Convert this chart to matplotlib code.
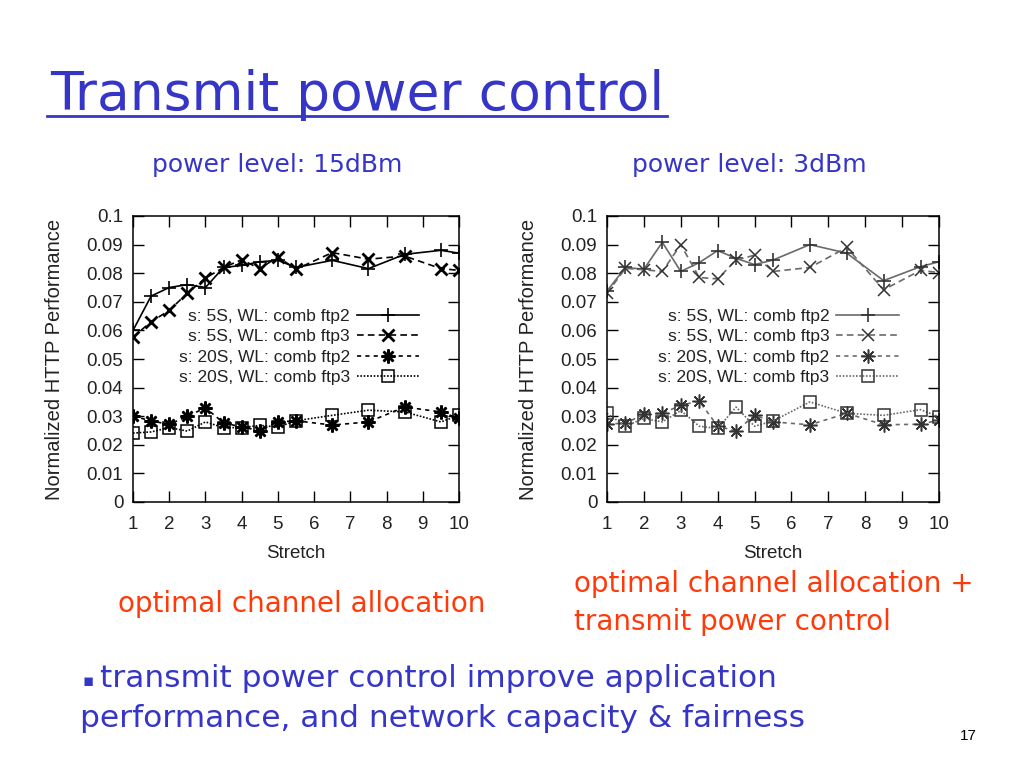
import numpy as np
import matplotlib
matplotlib.use("Agg")
import matplotlib.pyplot as plt
from matplotlib.lines import Line2D
from matplotlib.ticker import FormatStrFormatter

# stretch values (same for all series)
stretch = [1, 1.5, 2, 2.5, 3, 3.5, 4, 4.5, 5, 5.5, 6.5, 7.5, 8.5, 9.5, 10]

labels = ["s: 5S, WL: comb ftp2", "s: 5S, WL: comb ftp3",
          "s: 20S, WL: comb ftp2", "s: 20S, WL: comb ftp3"]

# power level 15dBm
p15_5s_ftp2 = [0.060, 0.072, 0.075, 0.076, 0.075, 0.082, 0.0827, 0.084, 0.0845, 0.082,
               0.0845, 0.0816, 0.0866, 0.088, 0.087]
p15_5s_ftp3 = [0.0577, 0.063, 0.067, 0.073, 0.0783, 0.082, 0.0847, 0.0816, 0.0857, 0.0814,
               0.0872, 0.0849, 0.086, 0.0816, 0.081]
p15_20s_ftp2 = [0.030, 0.0284, 0.0271, 0.030, 0.0329, 0.0277, 0.0262, 0.025, 0.028, 0.0284,
                0.0269, 0.028, 0.0332, 0.0315, 0.0292]
p15_20s_ftp3 = [0.0241, 0.0245, 0.026, 0.0248, 0.028, 0.026, 0.026, 0.0268, 0.0262, 0.0284,
                0.0303, 0.0321, 0.0315, 0.028, 0.0303]

# power level 3dBm
p3_5s_ftp2 = [0.0738, 0.082, 0.0814, 0.0908, 0.0806, 0.0837, 0.0879, 0.0852, 0.083, 0.0846,
              0.090, 0.087, 0.0774, 0.0823, 0.084]
p3_5s_ftp3 = [0.073, 0.0817, 0.0812, 0.0806, 0.090, 0.0785, 0.078, 0.0846, 0.0863, 0.0806,
              0.082, 0.089, 0.0742, 0.081, 0.0802]
p3_20s_ftp2 = [0.0272, 0.0276, 0.0306, 0.031, 0.0338, 0.0353, 0.0265, 0.0248, 0.0303, 0.028,
               0.027, 0.031, 0.027, 0.0272, 0.0286]
p3_20s_ftp3 = [0.031, 0.0265, 0.0292, 0.028, 0.032, 0.0265, 0.0257, 0.0332, 0.0265, 0.0283,
               0.035, 0.031, 0.0303, 0.0323, 0.0298]

xticks = [1, 2, 3, 4, 5, 6, 7, 8, 9, 10]
yticks = [0, 0.01, 0.02, 0.03, 0.04, 0.05, 0.06, 0.07, 0.08, 0.09, 0.1]

blue = "#3535c8"
red = "#ff3a0a"
slide_font = "DejaVu Sans"
plot_font = "Liberation Sans"

W, H = 1024, 768
fig = plt.figure(figsize=(10.24, 7.68), dpi=100)
fig.patch.set_facecolor("white")


def px(x, y):
    return x / W, 1 - y / H


def draw_chart(ax, series, lcol, mcol, bold):
    styles = [dict(ls="-", marker="+", ms=10, mew=1.2),
              dict(ls=(0, (4, 2.5)), marker="x", ms=8, mew=2.0 if bold else 1.1),
              dict(ls=(0, (2.5, 2.5)), marker=(8, 2, 0), ms=10, mew=1.8 if bold else 1.1),
              dict(ls=(0, (1, 1)), marker="s", ms=8, mfc="none", mew=1.1)]
    for ys, st, lab in zip(series, styles, labels):
        ax.plot(stretch, ys, color=lcol, lw=1.2, mec=mcol, label=lab, **st)
    ax.set_xlim(1, 10)
    ax.set_ylim(0, 0.1)
    ax.set_xticks(xticks)
    ax.set_yticks(yticks)
    ax.yaxis.set_major_formatter(FormatStrFormatter("%g"))
    ax.tick_params(direction="in", length=8, width=1, top=True, right=True,
                   labelsize=13.5, colors="black")
    ax.tick_params(axis="x", pad=10)
    ax.tick_params(axis="y", pad=7)
    for lab in ax.get_xticklabels() + ax.get_yticklabels():
        lab.set_fontfamily(plot_font)
        lab.set_color("#222222")
    for sp in ax.spines.values():
        sp.set_linewidth(1.1)
    ax.set_xlabel("Stretch", fontsize=13.5, family=plot_font, labelpad=9, color="#222222")
    ax.set_ylabel("Normalized HTTP Performance", fontsize=14.5, family=plot_font,
                  labelpad=16, color="#222222")
    leg = ax.legend(loc="upper right", bbox_to_anchor=(0.9, 0.7), frameon=False,
                    markerfirst=False, handlelength=3.6, handletextpad=0.4,
                    labelspacing=0.3, prop={"family": plot_font, "size": 12.5},
                    borderaxespad=0)
    for t in leg.get_texts():
        t.set_color("#222222")


ax1 = fig.add_axes([133 / W, 1 - 502 / H, 326 / W, 286 / H])
draw_chart(ax1, [p15_5s_ftp2, p15_5s_ftp3, p15_20s_ftp2, p15_20s_ftp3], "black", "black", True)

ax2 = fig.add_axes([607 / W, 1 - 502 / H, 332 / W, 286 / H])
draw_chart(ax2, [p3_5s_ftp2, p3_5s_ftp3, p3_20s_ftp2, p3_20s_ftp3], "#6a6a6a", "#333333", False)

# slide text
fig.text(*px(50, 110), "Transmit power control", color=blue, fontsize=38.5,
         family=slide_font, va="baseline", ha="left")
fig.add_artist(Line2D([47 / W, 667 / W], [1 - 116 / H, 1 - 116 / H], color=blue, lw=2))

fig.text(*px(152, 172), "power level: 15dBm", color=blue, fontsize=18,
         family=slide_font, va="baseline")
fig.text(*px(632, 172), "power level: 3dBm", color=blue, fontsize=18,
         family=slide_font, va="baseline")

fig.text(*px(118, 612), "optimal channel allocation", color=red, fontsize=20,
         family=slide_font, va="baseline")
fig.text(*px(574, 592), "optimal channel allocation +", color=red, fontsize=20,
         family=slide_font, va="baseline")
fig.text(*px(574, 630), "transmit power control", color=red, fontsize=20,
         family=slide_font, va="baseline")

fig.text(*px(83, 686), "\u25aa", color=blue, fontsize=12, family=slide_font, va="baseline")
fig.text(*px(100, 687), "transmit power control improve application", color=blue,
         fontsize=22.5, family=slide_font, va="baseline")
fig.text(*px(80, 727), "performance, and network capacity & fairness", color=blue,
         fontsize=22.5, family=slide_font, va="baseline")
fig.text(*px(960, 740), "17", color="black", fontsize=11, family=plot_font, va="baseline")

fig.savefig("out.png", dpi=100, facecolor="white")
